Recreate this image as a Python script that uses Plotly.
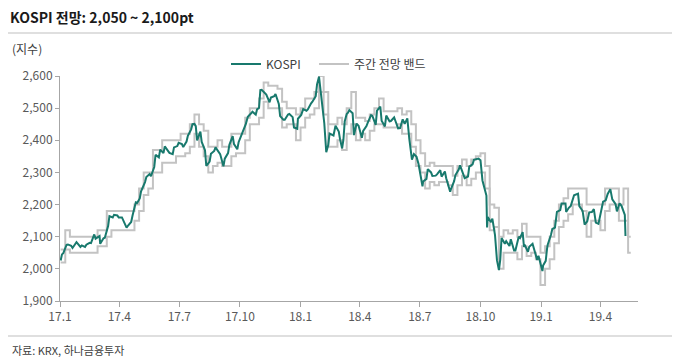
import pandas as pd
import plotly.graph_objects as go

# ---------------- data ----------------
kospi_dates = [
    "2017-01-02","2017-01-04","2017-01-06","2017-01-11","2017-01-13","2017-01-18","2017-01-20","2017-01-25","2017-01-26",
    "2017-02-01","2017-02-03","2017-02-08","2017-02-10","2017-02-15","2017-02-17","2017-02-22","2017-02-24",
    "2017-03-02","2017-03-03","2017-03-08","2017-03-10","2017-03-15","2017-03-17","2017-03-22","2017-03-24","2017-03-29","2017-03-31",
    "2017-04-05","2017-04-07","2017-04-12","2017-04-14","2017-04-19","2017-04-21","2017-04-26","2017-04-28",
    "2017-05-02","2017-05-04","2017-05-10","2017-05-12","2017-05-17","2017-05-19","2017-05-24","2017-05-26","2017-05-31",
    "2017-06-02","2017-06-07","2017-06-09","2017-06-14","2017-06-16","2017-06-21","2017-06-23","2017-06-28","2017-06-30",
    "2017-07-05","2017-07-07","2017-07-12","2017-07-14","2017-07-19","2017-07-21","2017-07-24","2017-07-26","2017-07-28",
    "2017-08-02","2017-08-04","2017-08-09","2017-08-11","2017-08-16","2017-08-18","2017-08-23","2017-08-25","2017-08-30",
    "2017-09-01","2017-09-06","2017-09-08","2017-09-13","2017-09-15","2017-09-20","2017-09-22","2017-09-27","2017-09-29",
    "2017-10-10","2017-10-13","2017-10-18","2017-10-20","2017-10-25","2017-10-27","2017-10-30",
    "2017-11-01","2017-11-03","2017-11-08","2017-11-10","2017-11-15","2017-11-17","2017-11-22","2017-11-24","2017-11-29",
    "2017-12-01","2017-12-06","2017-12-08","2017-12-13","2017-12-15","2017-12-20","2017-12-22","2017-12-27","2017-12-28",
    "2018-01-02","2018-01-05","2018-01-10","2018-01-12","2018-01-17","2018-01-19","2018-01-24","2018-01-26","2018-01-29","2018-01-31",
    "2018-02-02","2018-02-06","2018-02-09","2018-02-12","2018-02-14","2018-02-20","2018-02-23","2018-02-28",
    "2018-03-02","2018-03-05","2018-03-07","2018-03-09","2018-03-12","2018-03-14","2018-03-16","2018-03-21","2018-03-23","2018-03-27","2018-03-30",
    "2018-04-04","2018-04-06","2018-04-11","2018-04-13","2018-04-18","2018-04-20","2018-04-25","2018-04-27",
    "2018-05-02","2018-05-04","2018-05-09","2018-05-11","2018-05-16","2018-05-18","2018-05-23","2018-05-25","2018-05-29",
    "2018-06-01","2018-06-05","2018-06-08","2018-06-12","2018-06-15","2018-06-19","2018-06-22","2018-06-26","2018-06-29",
    "2018-07-03","2018-07-05","2018-07-06","2018-07-11","2018-07-13","2018-07-18","2018-07-20","2018-07-25","2018-07-27",
    "2018-08-01","2018-08-03","2018-08-08","2018-08-10","2018-08-14","2018-08-16","2018-08-17","2018-08-22","2018-08-24","2018-08-29","2018-08-31",
    "2018-09-05","2018-09-07","2018-09-12","2018-09-14","2018-09-19","2018-09-21","2018-09-28",
    "2018-10-01","2018-10-04","2018-10-05","2018-10-10","2018-10-11","2018-10-12","2018-10-17","2018-10-19","2018-10-23","2018-10-25","2018-10-26","2018-10-29","2018-10-31",
    "2018-11-02","2018-11-07","2018-11-09","2018-11-14","2018-11-16","2018-11-21","2018-11-23","2018-11-28","2018-11-30",
    "2018-12-04","2018-12-06","2018-12-07","2018-12-12","2018-12-14","2018-12-19","2018-12-21","2018-12-26","2018-12-28",
    "2019-01-03","2019-01-04","2019-01-08","2019-01-10","2019-01-11","2019-01-16","2019-01-18","2019-01-22","2019-01-25","2019-01-30",
    "2019-02-01","2019-02-07","2019-02-08","2019-02-12","2019-02-15","2019-02-20","2019-02-22","2019-02-26","2019-02-28",
    "2019-03-05","2019-03-08","2019-03-12","2019-03-15","2019-03-19","2019-03-22","2019-03-25","2019-03-29",
    "2019-04-02","2019-04-05","2019-04-09","2019-04-12","2019-04-16","2019-04-19","2019-04-24","2019-04-26","2019-04-30",
    "2019-05-03","2019-05-08","2019-05-09",
]
kospi_values = [
    2026,2045,2049,2075,2076,2072,2065,2083,2083,
    2068,2073,2068,2075,2081,2080,2107,2094,
    2102,2078,2095,2097,2133,2164,2160,2168,2166,2160,
    2160,2150,2128,2134,2146,2165,2207,2205,
    2219,2241,2270,2286,2295,2288,2317,2355,2347,
    2371,2360,2381,2367,2361,2357,2378,2382,2392,
    2388,2379,2396,2414,2434,2450,2451,2444,2400,
    2427,2395,2369,2320,2334,2358,2367,2378,2365,
    2357,2319,2343,2360,2386,2413,2388,2372,2394,
    2451,2473,2484,2489,2480,2496,2501,
    2556,2557,2546,2542,2518,2533,2537,2544,2513,
    2475,2464,2464,2480,2482,2472,2440,2436,2467,
    2479,2497,2492,2496,2515,2520,2537,2574,2598,2566,
    2525,2453,2363,2385,2421,2415,2445,2427,
    2402,2375,2401,2459,2482,2486,2494,2484,2416,2452,2445,
    2408,2429,2444,2455,2478,2476,2448,2492,
    2505,2461,2443,2477,2459,2460,2471,2460,2437,
    2438,2465,2451,2468,2404,2340,2357,2349,2326,
    2271,2257,2272,2280,2310,2300,2289,2290,2294,
    2307,2287,2303,2282,2258,2240,2247,2273,2292,2309,2322,
    2288,2282,2287,2318,2325,2339,2343,
    2338,2275,2267,2228,2129,2161,2145,2156,2106,2063,2027,1996,2029,
    2096,2078,2086,2071,2092,2057,2057,2100,2096,
    2114,2068,2075,2053,2069,2078,2061,2028,2041,
    1993,2010,2025,2063,2075,2106,2124,2128,2177,2183,
    2203,2203,2177,2190,2196,2229,2230,2234,2195,
    2180,2138,2148,2176,2177,2186,2144,2140,
    2177,2209,2213,2233,2248,2216,2201,2179,2204,
    2196,2168,2102,
]

# weekly forecast band (one value per week, weeks start on Monday)
band_start = "2017-01-02"
band_last_week = "2019-05-13"
band_end = "2019-05-17"
band_lower = [
    # 2017
    2020,2060,2050,2050,2050,2050,2050,2050,2070,2070,2100,2120,2120,2120,2120,2120,
    2150,2180,2230,2250,2300,2300,2330,2330,2330,2350,2350,2360,2380,2420,2380,2350,
    2300,2320,2330,2320,2320,2350,2360,2360,2400,2450,2450,2470,2520,2500,2500,2500,
    2440,2450,2450,2400,
    # 2018
    2440,2470,2480,2500,2550,2480,2380,2380,2400,2370,2420,2450,2400,2420,2400,2430,
    2450,2450,2440,2440,2440,2450,2420,2420,2380,2320,2300,2250,2270,2260,2270,2270,
    2260,2230,2260,2290,2260,2280,2300,2300,2250,2120,2130,2000,2050,2050,2050,2030,
    2070,2040,2050,2030,1950,
    # 2019
    2000,2030,2080,2130,2150,2170,2200,2200,2180,2100,2150,2150,2120,2180,2200,2200,
    2150,2150,2050,
]
band_upper = [
    # 2017
    2060,2120,2100,2100,2100,2100,2100,2100,2120,2120,2180,2180,2180,2180,2180,2180,
    2200,2250,2300,2300,2370,2370,2400,2400,2400,2400,2420,2420,2450,2480,2450,2430,
    2380,2380,2400,2380,2380,2420,2420,2420,2470,2500,2500,2530,2580,2570,2570,2560,
    2520,2500,2500,2480,
    # 2018
    2500,2530,2530,2550,2600,2550,2450,2450,2470,2450,2500,2550,2470,2470,2460,2480,
    2500,2530,2490,2490,2490,2500,2480,2490,2450,2400,2360,2320,2330,2320,2320,2320,
    2320,2290,2320,2340,2320,2340,2350,2360,2320,2200,2190,2100,2120,2110,2120,2100,
    2140,2100,2100,2100,2050,
    # 2019
    2070,2100,2150,2200,2220,2250,2250,2250,2250,2200,2200,2200,2200,2250,2250,2250,
    2200,2250,2100,
]

tick_dates = ["2017-01-01","2017-04-01","2017-07-01","2017-10-01","2018-01-01",
              "2018-04-01","2018-07-01","2018-10-01","2019-01-01","2019-04-01"]
tick_labels = ["17.1","17.4","17.7","17.10","18.1","18.4","18.7","18.10","19.1","19.4"]
y_ticks = [1900, 2000, 2100, 2200, 2300, 2400, 2500, 2600]

title_text = "KOSPI 전망: 2,050 ~ 2,100pt"
unit_text = "(지수)"
source_text = "자료: KRX, 하나금융투자"
name_kospi = "KOSPI"
name_band = "주간 전망 밴드"

# ---------------- figure ----------------
band_dates = list(pd.date_range(band_start, band_last_week, freq="W-MON").strftime("%Y-%m-%d")) + [band_end]
upper_y = band_upper + [band_upper[-1]]
lower_y = band_lower + [band_lower[-1]]

FONT = "Noto Sans CJK KR"
GREEN = "#18796d"
GRAY = "#c3c3c3"
AXIS = "#a6a6a6"

fig = go.Figure()
fig.add_trace(go.Scatter(x=band_dates, y=upper_y, mode="lines", name=name_band,
                         line=dict(color=GRAY, width=2, shape="hv"),
                         legendgroup="band", legend="legend2"))
fig.add_trace(go.Scatter(x=band_dates, y=lower_y, mode="lines", name=name_band,
                         line=dict(color=GRAY, width=2, shape="hv"),
                         legendgroup="band", showlegend=False, legend="legend2"))
fig.add_trace(go.Scatter(x=kospi_dates, y=kospi_values, mode="lines", name=name_kospi,
                         line=dict(color=GREEN, width=2), legend="legend"))

# the page body has an 8px margin, so the figure is laid out 8px smaller
OFF = 8
W, H = 680 - OFF, 363 - OFF
PLOT_L, PLOT_R, PLOT_T, PLOT_B = 60, 638, 76, 301  # target window pixels
L = PLOT_L - OFF
R = W - (PLOT_R - OFF)
T = PLOT_T - OFF
B = H - (PLOT_B - OFF)
pw, ph = W - L - R, H - T - B

def px(xp):  # window pixel x -> paper
    return (xp - OFF - L) / pw

def py(yp):  # window pixel y -> paper
    return (H - B - (yp - OFF)) / ph

legend_style = dict(orientation="h", xanchor="left", yanchor="middle", y=py(64),
                    font=dict(family=FONT, size=12, color="#404040"),
                    bgcolor="rgba(0,0,0,0)", itemwidth=30)

fig.update_layout(
    width=W, height=H,
    margin=dict(l=L, r=R, t=T, b=B),
    paper_bgcolor="white", plot_bgcolor="white",
    font=dict(family=FONT, size=12, color="#595959"),
    title=dict(text=title_text, x=(10 - OFF) / W, xanchor="left",
               y=1 - (18 - OFF) / H, yanchor="middle",
               font=dict(family=FONT, size=14, color="#1a1a1a", weight="bold")),
    showlegend=True,
    legend=dict(x=px(226), **legend_style),
    legend2=dict(x=px(314), **legend_style),
    xaxis=dict(type="date", range=["2017-01-01", "2019-05-28"],
               tickmode="array", tickvals=tick_dates, ticktext=tick_labels,
               showgrid=False, zeroline=False, showline=True, linecolor=AXIS, linewidth=1,
               ticks="outside", ticklen=5, tickcolor=AXIS,
               tickfont=dict(family=FONT, size=12, color="#595959")),
    yaxis=dict(range=[1900, 2600], tickmode="array", tickvals=y_ticks, tickformat=",",
               showgrid=False, zeroline=False, showline=True, linecolor=AXIS, linewidth=1,
               ticks="outside", ticklen=4, tickcolor=AXIS,
               tickfont=dict(family=FONT, size=12, color="#595959")),
)

fig.add_shape(type="line", xref="paper", yref="paper", x0=px(8), x1=px(677), y0=py(33), y1=py(33),
              line=dict(color="#bfbfbf", width=1))
fig.add_shape(type="line", xref="paper", yref="paper", x0=px(8), x1=px(677), y0=py(336), y1=py(336),
              line=dict(color="#bfbfbf", width=1))
fig.add_annotation(text=unit_text, xref="paper", yref="paper", x=px(10), y=py(49),
                   xanchor="left", yanchor="middle", showarrow=False,
                   font=dict(family=FONT, size=12, color="#404040"))
fig.add_annotation(text=source_text, xref="paper", yref="paper", x=px(10), y=py(350),
                   xanchor="left", yanchor="middle", showarrow=False,
                   font=dict(family=FONT, size=11, color="#404040"))

fig.write_html("out.html")
